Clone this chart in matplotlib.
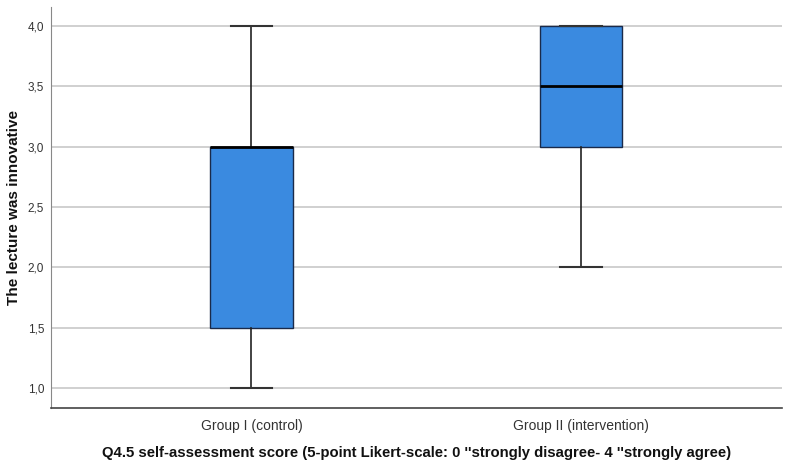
import matplotlib.pyplot as plt

# Werte (Boxplot-Statistik je Gruppe)
gruppen = ["Group I (control)", "Group II (intervention)"]
whisker_unten = [1.0, 2.0]
q1 = [1.5, 3.0]
median = [3.0, 3.5]
q3 = [3.0, 4.0]
whisker_oben = [4.0, 4.0]
y_ticks = [1.0, 1.5, 2.0, 2.5, 3.0, 3.5, 4.0]

plt.rcParams["font.family"] = ["Liberation Sans", "DejaVu Sans"]

stats = []
for i, name in enumerate(gruppen):
    stats.append({"label": name, "whislo": whisker_unten[i], "q1": q1[i],
                  "med": median[i], "q3": q3[i], "whishi": whisker_oben[i],
                  "fliers": []})

fig = plt.figure(figsize=(7.9, 4.65), dpi=100)
ax = fig.add_axes([0.0646, 0.1226, 0.9254, 0.8624])

ax.bxp(stats, positions=[1, 2], widths=0.25, patch_artist=True,
       boxprops=dict(facecolor="#3a8ae0", edgecolor="#1a2a4a", linewidth=1.0),
       medianprops=dict(color="black", linewidth=2.0),
       whiskerprops=dict(color="#222222", linewidth=1.2),
       capprops=dict(color="#333333", linewidth=1.5),
       capwidths=0.125, zorder=3)

ax.set_xlim(0.392, 2.61)
ax.set_ylim(0.834, 4.157)
ax.set_yticks(y_ticks)
ax.set_yticklabels([f"{v:.1f}".replace(".", ",") for v in y_ticks])
ax.yaxis.grid(True, color="#c8c8c8", linewidth=1.2, zorder=0)
ax.set_axisbelow(True)

ax.tick_params(axis="y", length=0, labelsize=8.5, labelcolor="#333333", pad=5)
ax.tick_params(axis="x", length=0, labelsize=10, labelcolor="#333333", pad=8)

for s in ["top", "right"]:
    ax.spines[s].set_visible(False)
ax.spines["left"].set_color("#888888")
ax.spines["bottom"].set_color("#444444")
ax.spines["bottom"].set_linewidth(1.2)

ax.set_ylabel("The lecture was innovative", fontsize=11, fontweight="bold",
              color="#111111")
ax.yaxis.set_label_coords(-0.041, 0.5)
ax.set_xlabel("Q4.5 self-assessment score (5-point Likert-scale: 0 ''strongly disagree- 4 ''strongly agree)",
              fontsize=10.7, fontweight="bold", color="#111111", labelpad=9)

plt.savefig("out.png", dpi=100)
